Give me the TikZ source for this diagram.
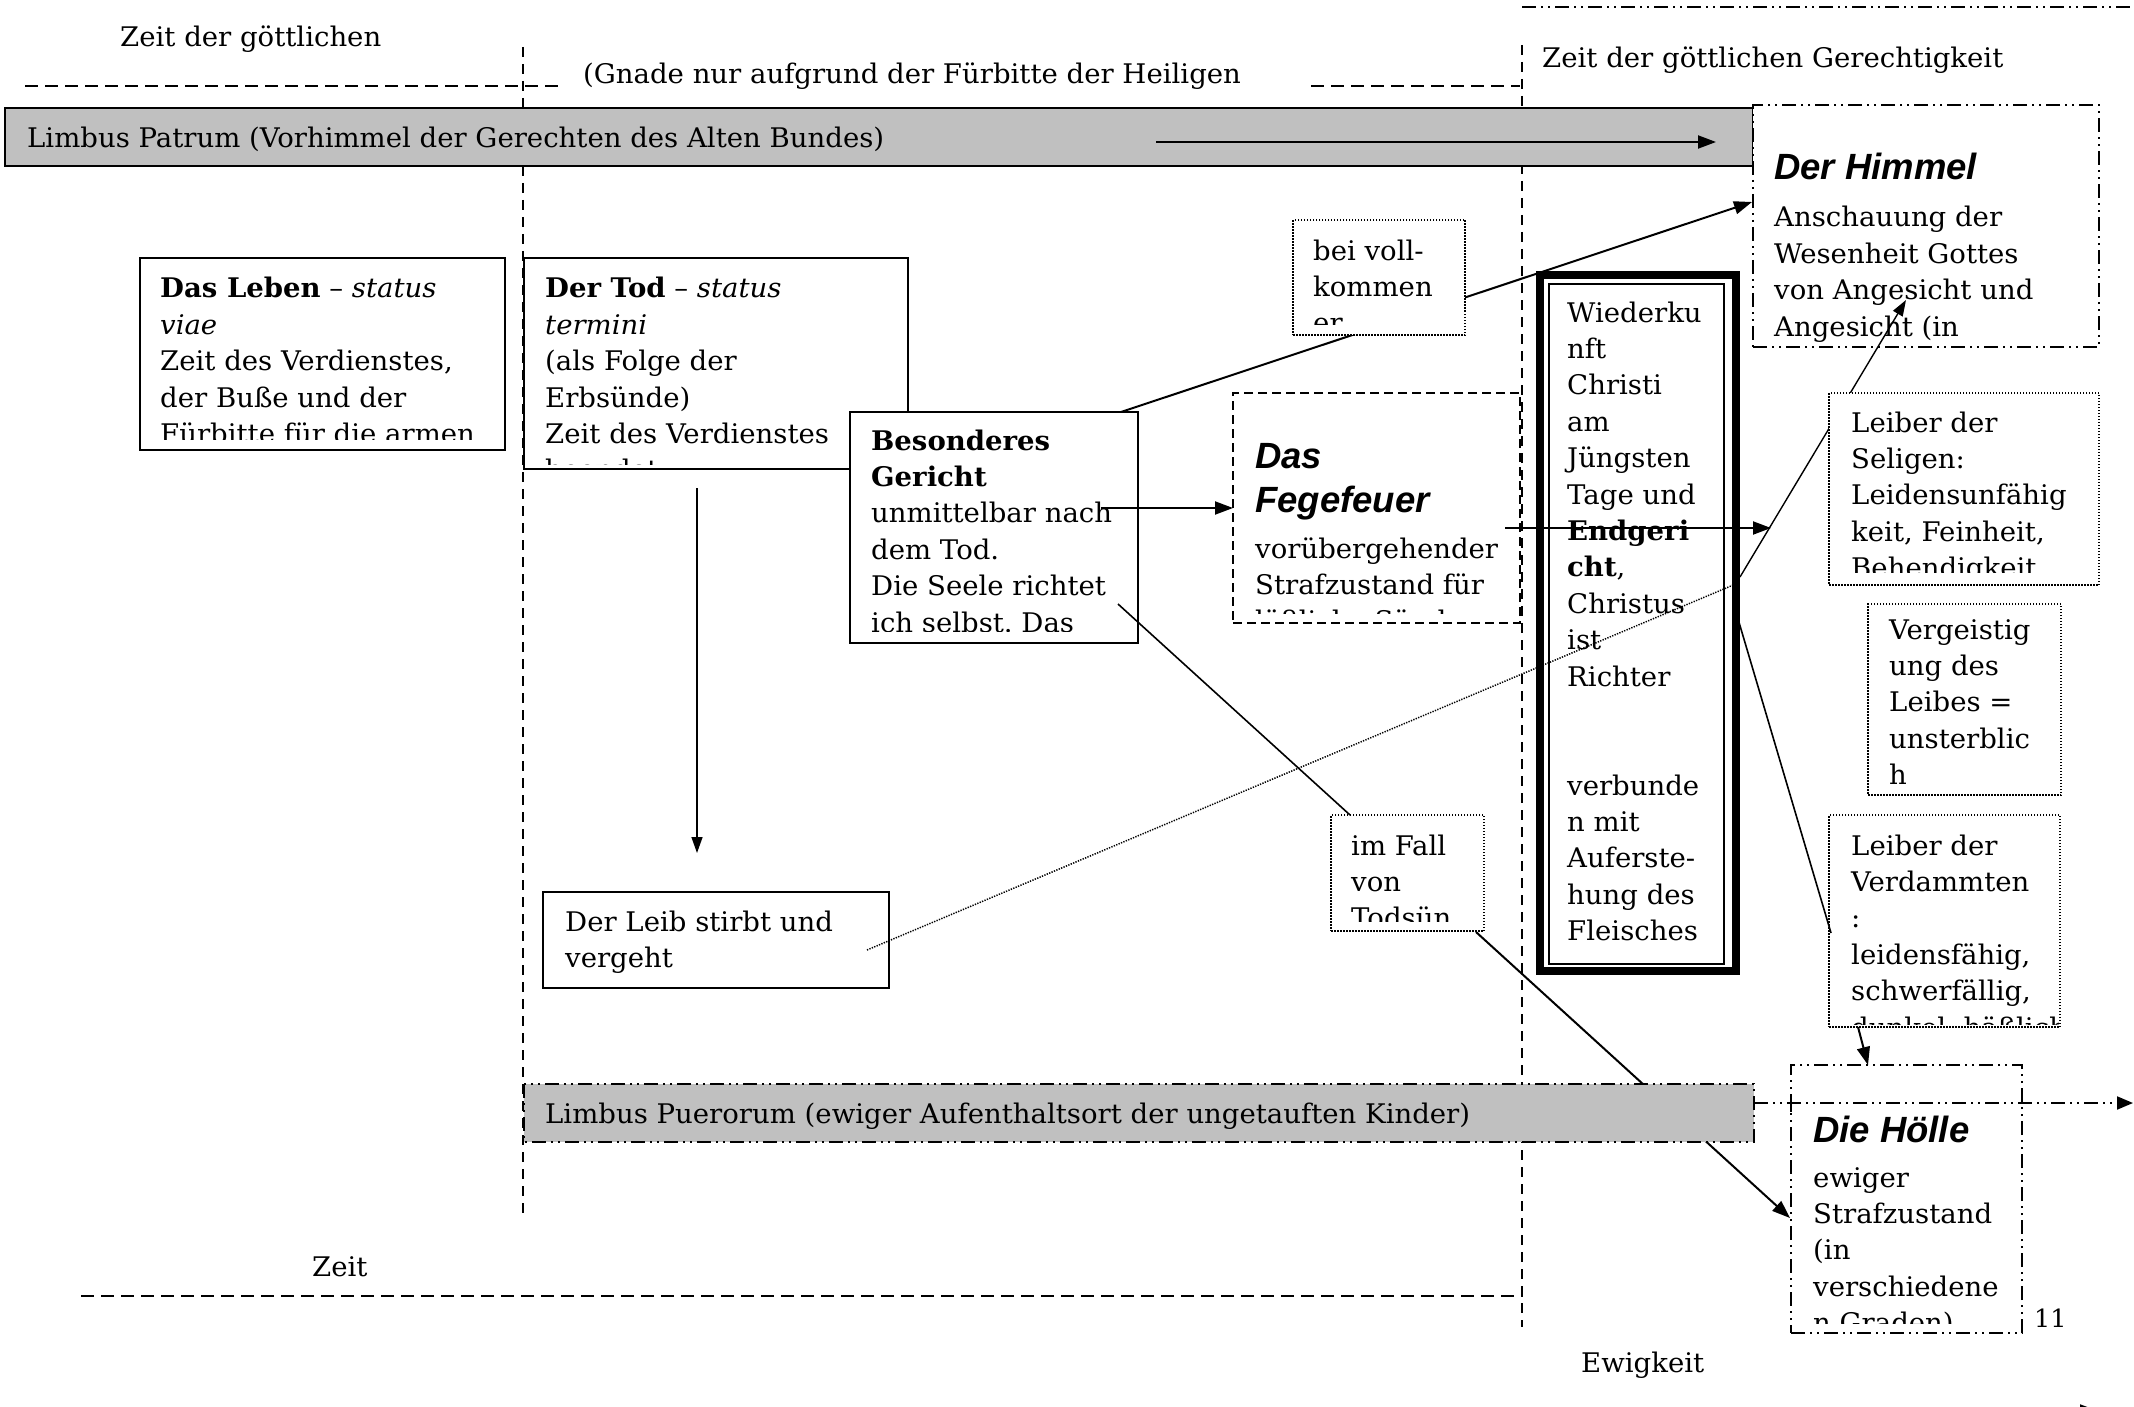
\documentclass[tikz,border=0pt]{standalone}
\usepackage{fontspec}
\setmainfont{DejaVu Serif}[FakeStretch=1.02]
\newfontfamily\headsans{Liberation Sans}
\usetikzlibrary{arrows.meta}
\definecolor{barg}{HTML}{C0C0C0}
\newcommand\ml[1]{\begin{tabular}[t]{@{}l@{}}#1\end{tabular}}
\frenchspacing
\begin{document}
\begin{tikzpicture}[x=1pt,y=-1pt,
 bodyt/.style={font=\fontsize{27}{36.4}\selectfont, inner sep=0pt, anchor=base west},
 headt/.style={font=\headsans\bfseries\itshape\fontsize{36.5}{44}\selectfont, inner sep=0pt, anchor=base west},
 smallt/.style={font=\fontsize{25}{28}\selectfont, inner sep=0pt, anchor=base west},
 bx/.style={anchor=north west, inner sep=0pt, outer sep=0pt, fill=white},
 solidbox/.style={bx, draw, line width=2pt},
 dottedbox/.style={bx, draw, line width=1.5pt, dash pattern=on 1.5pt off 1.5pt},
 dashbox/.style={bx, draw, line width=2pt, dash pattern=on 9pt off 5pt},
 ddbox/.style={bx, draw, line width=2pt, dash pattern=on 14pt off 5pt on 2pt off 5pt on 2pt off 5pt},
 graybar/.style={bx, fill=barg, draw, line width=2.5pt},
 arr/.style={-{Triangle[length=18pt,width=13pt]}, line width=2pt},
 arrthin/.style={-{Triangle[length=16pt,width=11pt]}, line width=1.4pt},
 conn/.style={line width=1.6pt},
 guide/.style={line width=1.6pt, dash pattern=on 10pt off 7pt},
 hguide/.style={line width=2pt, dash pattern=on 13pt off 7pt},
 ddline/.style={line width=2pt, dash pattern=on 14pt off 5pt on 2pt off 5pt on 2pt off 5pt},
 dotline/.style={line width=1.5pt, dash pattern=on 1.3pt off 1.3pt},
]
\useasboundingbox (0,0) rectangle (2134,1407);
\fill[white] (0,0) rectangle (2134,1407);

% guide lines
\draw[guide] (523,47) -- (523,1218);
\draw[guide] (1522,45) -- (1522,1327);
\draw[hguide] (25,86) -- (561,86);
\draw[hguide] (1311,86) -- (1520,86);
\draw[hguide] (81,1296) -- (1523,1296);
\draw[ddline] (1522,7) -- (2134,7);

% free texts
\node[bodyt] (zeitg) at (120,47) {Zeit der göttlichen};
\node[bodyt] (gnade) at (583,84) {(Gnade nur aufgrund der Fürbitte der Heiligen};
\node[bodyt] (gerecht) at (1542,68) {Zeit der göttlichen Gerechtigkeit};
\node[bodyt] (zeit) at (312,1276) {Zeit};
\node[bodyt] (ewig) at (1581,1372) {Ewigkeit};
\node[smallt] (eleven) at (2034,1327) {11};

% Limbus Patrum bar
\node[graybar, minimum width=1748pt, minimum height=58pt] (patrum) at (5,108) {};
\node[bodyt] (patrum-t) at (27,148) {Limbus Patrum (Vorhimmel der Gerechten des Alten Bundes)};
\coordinate (pa1) at (1156,142);
\coordinate (pa2) at (1716,142);
\draw[arr] (pa1) -- (pa2);

% Himmel
\node[ddbox, minimum width=346pt, minimum height=242pt] (himmel) at (1753,105) {};
\begin{scope}
\clip (1756,108) rectangle (2096,345);
\node[headt] (himmel-h) at (1774,180) {Der Himmel};
\node[bodyt] (himmel-t) at (1774,227) {\ml{Anschauung der\\Wesenheit Gottes\\von Angesicht und\\Angesicht (in\\der Seligkeit)}};
\end{scope}

% connectors behind boxes
\coordinate (bes-up) at (1121,412);
\coordinate (him-in) at (1752,202);
\draw[arr] (bes-up) -- (him-in);
\coordinate (wied-up) at (1740,577);
\coordinate (him-in2) at (1906,300);
\draw[arrthin] (wied-up) -- (him-in2);
\coordinate (tod-s) at (1476,932);
\coordinate (hoe-in) at (1790,1218);
\draw[arr] (tod-s) -- (hoe-in);

% Das Leben
\node[solidbox, minimum width=365pt, minimum height=192pt] (leben) at (140,258) {};
\begin{scope}
\clip (142,260) rectangle (503,439);
\node[bodyt] (leben-t) at (160,298) {\ml{\textbf{Das Leben} – \textit{status}\\\textit{viae}\\Zeit des Verdienstes,\\der Buße und der\\Fürbitte für die armen\\Seelen}};
\end{scope}

% Der Tod
\node[solidbox, minimum width=384pt, minimum height=211pt] (tod) at (524,258) {};
\begin{scope}
\clip (526,260) rectangle (906,464);
\node[bodyt] (tod-t) at (545,298) {\ml{\textbf{Der Tod} – \textit{status}\\\textit{termini}\\(als Folge der\\Erbsünde)\\Zeit des Verdienstes\\beendet}};
\end{scope}

% Besonderes Gericht
\node[solidbox, minimum width=288pt, minimum height=231pt] (bes) at (850,412) {};
\begin{scope}
\clip (852,414) rectangle (1136,631);
\node[bodyt] (bes-t) at (871,450) {\ml{\textbf{Besonderes}\\\textbf{Gericht}\\unmittelbar nach\\dem Tod.\\Die Seele richtet\\ich selbst. Das}};
\end{scope}

% Fegefeuer
\node[dashbox, minimum width=287pt, minimum height=230pt] (fege) at (1233,393) {};
\begin{scope}
\clip (1235,395) rectangle (1518,613);
\node[headt] (fege-h) at (1255,468) {\ml{Das\\Fegefeuer}};
\node[bodyt] (fege-t) at (1255,558) {\ml{vorübergehender\\Strafzustand für\\läßliche Sünden}};
\end{scope}

% bei vollkommener
\node[dottedbox, minimum width=172pt, minimum height=115pt] (voll) at (1293,220) {};
\begin{scope}
\clip (1295,222) rectangle (1463,324);
\node[bodyt] (voll-t) at (1313,260) {\ml{bei voll-\\kommen\\er}};
\end{scope}

% Wiederkunft
\node[bx, draw, line width=8pt, minimum width=196pt, minimum height=696pt] (wied) at (1540,275) {};
\draw[line width=2pt] (1549,284) rectangle (1724,964);
\node[bodyt] (wied-t) at (1567,322) {\ml{Wiederku\\nft\\Christi\\am\\Jüngsten\\Tage und\\\textbf{Endgeri}\\\textbf{cht},\\Christus\\ist\\Richter\\ \\ \\verbunde\\n mit\\Auferste-\\hung des\\Fleisches}};

% Leiber der Seligen
\node[dottedbox, minimum width=270pt, minimum height=192pt] (selig) at (1829,393) {};
\begin{scope}
\clip (1831,395) rectangle (2097,572);
\node[bodyt] (selig-t) at (1851,432) {\ml{Leiber der\\Seligen:\\Leidensunfähig\\keit, Feinheit,\\Behendigkeit}};
\end{scope}

% Vergeistigung
\node[dottedbox, minimum width=193pt, minimum height=191pt] (geist) at (1868,604) {};
\begin{scope}
\clip (1870,606) rectangle (2059,786);
\node[bodyt] (geist-t) at (1889,639) {\ml{Vergeistig\\ung des\\Leibes =\\unsterblic\\h}};
\end{scope}

% Leiber der Verdammten
\node[dottedbox, minimum width=231pt, minimum height=212pt] (verd) at (1829,815) {};
\begin{scope}
\clip (1831,817) rectangle (2058,1024);
\node[bodyt] (verd-t) at (1851,855) {\ml{Leiber der\\Verdammten\\:\\leidensfähig,\\schwerfällig,\\dunkel, häßlich}};
\end{scope}

% im Fall von Todsuende
\node[dottedbox, minimum width=153pt, minimum height=116pt] (tods) at (1331,815) {};
\begin{scope}
\clip (1333,817) rectangle (1482,921);
\node[bodyt] (tods-t) at (1351,855) {\ml{im Fall\\von\\Todsün}};
\end{scope}

% Der Leib
\node[solidbox, minimum width=346pt, minimum height=96pt] (leib) at (543,892) {};
\node[bodyt] (leib-t) at (565,931) {\ml{Der Leib stirbt und\\vergeht}};

% Limbus Puerorum
\node[graybar, draw=none, minimum width=1230pt, minimum height=58pt] (puer) at (524,1084) {};
\draw[ddline] (puer.north west) rectangle (puer.south east);
\node[bodyt] (puer-t) at (545,1123) {Limbus Puerorum (ewiger Aufenthaltsort der ungetauften Kinder)};

% Hoelle
\node[ddbox, minimum width=231pt, minimum height=268pt] (hoelle) at (1791,1065) {};
\begin{scope}
\clip (1793,1067) rectangle (2020,1323);
\node[headt] (hoelle-h) at (1813,1142) {Die Hölle};
\node[bodyt] (hoelle-t) at (1813,1187) {\ml{ewiger\\Strafzustand\\(in\\verschiedene\\n Graden)}};
\end{scope}

% connectors on top
\coordinate (bes-r) at (1101,508);
\draw[arr] (bes-r) -- (fege.west);
\coordinate (fe-r) at (1505,528);
\coordinate (fe-end) at (1771,528);
\draw[arr] (fe-r) -- (fe-end);
\coordinate (bes-d) at (1118,604);
\coordinate (tods-in) at (1350,815);
\draw[conn] (bes-d) -- (tods-in);
\coordinate (tod-d) at (697,488);
\coordinate (leib-in) at (697,853);
\draw[arrthin] (tod-d) -- (leib-in);
\coordinate (leib-r) at (867,950);
\coordinate (wied-r) at (1738,583);
\draw[dotline] (leib-r) -- (wied-r);
\coordinate (wied-dn) at (1738,619);
\coordinate (verd-in) at (1831,933);
\draw[conn] (wied-dn) -- (verd-in);
\coordinate (verd-b) at (1858,1027);
\coordinate (hoe-top) at (1868,1065);
\draw[arr] (verd-b) -- (hoe-top);
\coordinate (puer-r) at (1754,1103);
\coordinate (edge-r) at (2133,1103);
\draw[ddline, -{Triangle[length=16pt,width=13pt]}] (puer-r) -- (edge-r);
\draw[line width=1.5pt] (1791,1103) -- (1791,1112);
\coordinate (off1) at (1990,1411);
\coordinate (off2) at (2098,1411);
\draw[arr] (off1) -- (off2);
\end{tikzpicture}
\end{document}
